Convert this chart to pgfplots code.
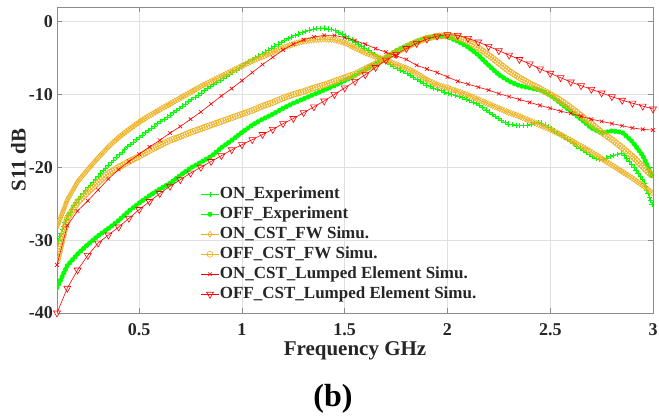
\documentclass[border=0pt]{standalone}
\usepackage{fontspec}
\setmainfont{Liberation Serif}
\usepackage{pgfplots}
\usepackage{pgfplotstable}
\pgfplotsset{compat=1.18}
\usetikzlibrary{decorations.markings}

\definecolor{cgreen}{RGB}{0,255,0}
\definecolor{corange}{RGB}{237,177,32}
\definecolor{cred}{RGB}{255,0,0}
\definecolor{ctext}{RGB}{38,38,38}

\tikzset{densemarks/.style n args={3}{postaction={decorate},
  decoration={markings, mark=between positions 0 and 1 step #3 with {\pgftransformresetnontranslations\pgfplotmarksize=#2\relax\pgfuseplotmark{#1}}}}}

\pgfplotstableread{
x onexp offexp onfw offfw onlump offlump
0.10 -30.5 -36.5 -28.2 -32.9 -33.4 -40.0
0.15 -26.8 -33.5 -24.5 -27.0 -28.0 -36.6
0.20 -24.5 -31.9 -22.0 -24.8 -26.0 -34.1
0.25 -22.8 -30.6 -20.3 -23.4 -24.6 -32.1
0.30 -21.2 -29.4 -18.7 -22.1 -23.1 -30.4
0.35 -19.7 -28.4 -17.2 -20.8 -21.6 -29.3
0.40 -18.3 -27.3 -15.9 -20.0 -20.3 -28.2
0.45 -17.0 -26.0 -14.8 -19.2 -19.2 -27.0
0.50 -15.9 -24.9 -13.8 -18.5 -18.2 -25.8
0.55 -14.8 -23.9 -12.9 -17.7 -17.2 -24.7
0.60 -13.8 -23.0 -12.1 -17.0 -16.3 -23.6
0.65 -12.8 -22.2 -11.3 -16.3 -15.3 -22.6
0.70 -11.8 -21.1 -10.5 -15.8 -14.4 -21.7
0.75 -10.8 -20.1 -9.7 -15.2 -13.4 -20.8
0.80 -9.8 -19.3 -8.9 -14.7 -12.4 -20.0
0.85 -8.8 -18.5 -8.2 -14.2 -11.3 -19.2
0.90 -7.9 -17.3 -7.5 -13.7 -10.2 -18.4
0.95 -7.0 -16.3 -6.8 -13.2 -9.2 -17.6
1.00 -6.1 -15.2 -6.1 -12.7 -8.1 -16.9
1.05 -5.2 -14.2 -5.4 -12.2 -7.0 -16.2
1.10 -4.4 -13.4 -4.8 -11.6 -5.9 -15.5
1.15 -3.5 -12.7 -4.2 -11.1 -4.9 -14.8
1.20 -2.7 -11.9 -3.6 -10.5 -3.9 -14.0
1.25 -2.0 -11.2 -3.1 -10.0 -3.1 -13.3
1.30 -1.4 -10.6 -2.7 -9.6 -2.5 -12.5
1.35 -1.0 -10.0 -2.5 -9.1 -2.1 -11.7
1.40 -0.9 -9.4 -2.4 -8.7 -1.9 -10.9
1.45 -1.2 -8.8 -2.5 -8.2 -1.9 -10.0
1.50 -1.9 -8.1 -2.9 -7.7 -2.2 -9.1
1.55 -2.8 -7.4 -3.6 -7.2 -2.6 -8.2
1.60 -3.7 -6.6 -4.3 -6.5 -3.1 -7.3
1.65 -4.6 -5.8 -4.8 -5.8 -3.7 -6.3
1.70 -5.5 -4.9 -5.3 -5.0 -4.2 -5.3
1.75 -6.3 -4.0 -5.9 -4.2 -4.7 -4.5
1.80 -7.1 -3.3 -6.4 -3.5 -5.2 -3.7
1.85 -7.9 -2.7 -7.1 -2.8 -6.0 -3.0
1.90 -8.7 -2.2 -8.0 -2.3 -6.5 -2.4
1.95 -9.3 -2.0 -8.7 -2.0 -7.0 -2.0
2.00 -9.8 -2.1 -9.1 -1.9 -7.6 -1.8
2.05 -10.2 -2.7 -9.6 -2.2 -8.2 -1.9
2.10 -10.7 -3.5 -10.1 -2.7 -8.6 -2.3
2.15 -11.4 -4.6 -10.7 -3.6 -9.0 -2.8
2.20 -12.4 -6.0 -11.3 -4.6 -9.4 -3.4
2.25 -13.4 -7.3 -11.9 -5.7 -9.9 -4.0
2.30 -14.1 -8.2 -12.5 -6.8 -10.3 -4.6
2.35 -14.3 -8.8 -13.0 -7.7 -10.7 -5.2
2.40 -14.2 -9.1 -13.6 -8.5 -11.1 -5.8
2.45 -13.8 -9.4 -14.2 -9.2 -11.5 -6.5
2.50 -14.6 -10.1 -14.8 -10.0 -11.9 -7.1
2.55 -15.6 -11.2 -15.5 -10.8 -12.3 -7.7
2.60 -16.5 -12.3 -16.3 -11.8 -12.6 -8.3
2.65 -17.5 -13.4 -17.1 -12.9 -13.0 -8.8
2.70 -18.5 -14.6 -17.9 -14.0 -13.4 -9.3
2.75 -19.0 -15.3 -18.8 -15.2 -13.7 -9.8
2.80 -18.4 -15.0 -19.7 -16.2 -14.0 -10.3
2.85 -18.1 -15.2 -20.6 -17.3 -14.3 -10.8
2.90 -19.7 -16.5 -21.5 -18.5 -14.6 -11.2
2.95 -21.7 -18.4 -22.5 -19.9 -14.8 -11.6
3.00 -25.4 -21.5 -23.6 -21.3 -14.9 -12.0
}\datatable

\begin{document}
\begin{tikzpicture}
\begin{axis}[
  scale only axis, width=596pt, height=306pt,
  xmin=0.1, xmax=3, ymin=-40, ymax=2,
  xtick={0.5,1,1.5,2,2.5,3}, xticklabels={0.5,1,1.5,2,2.5,3},
  ytick={-40,-30,-20,-10,0}, yticklabels={-40,-30,-20,-10,0},
  xtick pos=both, ytick pos=both, xticklabel pos=lower, yticklabel pos=left,
  tick align=inside, major tick length=5pt,
  grid=major, major grid style={black!12, line width=0.5pt},
  axis line style={black!45, line width=0.6pt}, tick style={black!45, line width=0.6pt},
  tick label style={font=\fontsize{18}{18}\selectfont\bfseries, text=ctext},
  xticklabel style={anchor=base, yshift=-23pt, inner sep=0pt},
  yticklabel style={anchor=east, xshift=-4pt, inner sep=0pt},
  xlabel={Frequency GHz}, ylabel={S11 dB},
  label style={font=\fontsize{21}{21}\selectfont\bfseries, text=ctext},
  xlabel style={at={(axis description cs:0.5,-0.1405)}, anchor=base},
  ylabel style={at={(axis description cs:-0.0646,0.5)}, anchor=center, rotate=0},
  clip mode=individual,
  legend cell align=left,
  legend style={draw=none, fill=none, at={(axis description cs:0.2416,0.418)}, anchor=north west,
    font=\fontsize{17}{17}\selectfont\bfseries, text=ctext, inner sep=0pt, row sep=2pt,
    nodes={inner sep=1pt, text height=12pt, text depth=4pt}},
]
\addplot[cgreen, line width=0.6pt, forget plot, densemarks={+}{2.7pt}{3.8pt}] table[x=x, y=onexp] {\datatable};
\addplot[cgreen, line width=0.6pt, forget plot, densemarks={*}{2.2pt}{4pt}] table[x=x, y=offexp] {\datatable};
\addplot[corange, line width=0.6pt, forget plot, densemarks={diamond}{3pt}{2.5pt}] table[x=x, y=onfw] {\datatable};
\addplot[corange, line width=0.6pt, forget plot, densemarks={o}{3pt}{2.5pt}] table[x=x, y=offfw] {\datatable};
\addplot[cred, line width=0.6pt, forget plot, mark=x, mark size=2.6pt] table[x=x, y=onlump] {\datatable};
\addplot[cred, line width=0.6pt, forget plot, mark=triangle, mark size=4pt, mark options={rotate=180}] table[x=x, y=offlump] {\datatable};

\addlegendimage{cgreen, line width=0.6pt, mark=+, mark size=2.7pt}
\addlegendentry{ON\_Experiment}
\addlegendimage{cgreen, line width=0.6pt, mark=*, mark size=2.2pt}
\addlegendentry{OFF\_Experiment}
\addlegendimage{corange, line width=0.6pt, mark=diamond, mark size=3pt}
\addlegendentry{ON\_CST\_FW Simu.}
\addlegendimage{corange, line width=0.6pt, mark=o, mark size=3pt}
\addlegendentry{OFF\_CST\_FW Simu.}
\addlegendimage{cred, line width=0.6pt, mark=x, mark size=2.6pt}
\addlegendentry{ON\_CST\_Lumped Element Simu.}
\addlegendimage{cred, line width=0.6pt, mark=triangle, mark size=4pt, mark options={rotate=180}}
\addlegendentry{OFF\_CST\_Lumped Element Simu.}
\end{axis}
\node[anchor=base, font=\fontsize{32}{32}\selectfont\bfseries, text=black] at ([shift={(-22pt,-93.6pt)}]current axis.south) {(b)};
\pgfresetboundingbox
\path[use as bounding box] (current axis.south west) ++(-57pt,-103pt) rectangle ([shift={(6pt,7pt)}]current axis.north east);
\end{tikzpicture}
\end{document}
